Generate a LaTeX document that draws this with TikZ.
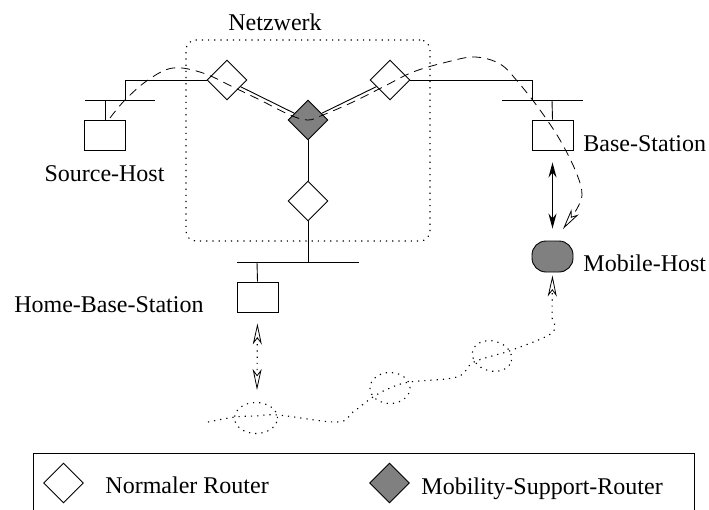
\documentclass[tikz,border=0pt]{standalone}
\usepackage{fontspec}
\setmainfont{Liberation Serif}
\usetikzlibrary{shapes.geometric,arrows.meta}
\definecolor{msrgray}{RGB}{128,128,128}
\begin{document}
\begin{tikzpicture}[x=1pt,y=-1pt, line width=0.9pt,
  router/.style={diamond, draw, fill=white, inner sep=0pt, minimum width=40pt, minimum height=40pt},
  msr/.style={router, fill=msrgray},
  hostbox/.style={draw, rectangle, inner sep=0pt, minimum width=41pt, minimum height=30pt},
  mobile/.style={draw, fill=msrgray, rectangle, rounded corners=14pt, inner sep=0pt, minimum width=41pt, minimum height=31pt},
  lbl/.style={font=\fontsize{24}{28}\selectfont, inner sep=0pt},
  netframe/.style={draw, rounded corners=10pt, dash pattern=on 1.2pt off 5pt, line width=1.1pt, inner sep=0pt, minimum width=244pt, minimum height=201pt},
  dashpath/.style={dash pattern=on 9pt off 6pt, line width=0.8pt},
  dotpath/.style={dash pattern=on 1.2pt off 5pt, line width=1.1pt},
  opentip/.style={-{Stealth[open, length=21pt, width=9pt, inset=6pt, line width=0.8pt]}},
  opentips/.style={{Stealth[open, length=21pt, width=9pt, inset=6pt, line width=0.8pt]}-{Stealth[open, length=21pt, width=9pt, inset=6pt, line width=0.8pt]}}
]
\useasboundingbox (0,0) rectangle (709,509);
\clip (0,0) rectangle (709,509);

% network frame
\node[netframe] (net) at (308,140.5) {};
\node[lbl, anchor=base] (netlbl) at (275,30) {Netzwerk};

% routers
\node[router] (r1) at (227,80) {};
\node[router] (r2) at (390,80) {};
\node[msr] (m1) at (308,120) {};
\node[router] (r3) at (308,201) {};

% source host
\coordinate (sbl) at (85,100);
\coordinate (sbr) at (155,100);
\coordinate (sbc) at (125,100);
\coordinate (sbh) at (105,100);
\node[hostbox] (sh) at (105,135) {};
\node[lbl, anchor=base] (shlbl) at (104.5,181) {Source-Host};

% base station
\coordinate (bbl) at (502,100);
\coordinate (bbr) at (583,100);
\coordinate (bbc) at (532,100);
\coordinate (bbh) at (552,100);
\node[hostbox] (bs) at (552.5,135) {};
\node[lbl, anchor=base west] (bslbl) at (583,151) {Base-Station};

% home base station
\coordinate (hbl) at (237,262);
\coordinate (hbr) at (359,262);
\coordinate (hbc) at (308,262);
\coordinate (hbh) at (257,262);
\node[hostbox] (hbs) at (257.5,297) {};
\node[lbl, anchor=base east] (hbslbl) at (204,312) {Home-Base-Station};

% mobile host
\node[mobile] (mh) at (552.5,256.5) {};
\node[lbl, anchor=base west] (mhlbl) at (583,271) {Mobile-Host};

% wiring
\draw (sbl) -- (sbr);
\draw (sbh) -- (sh.north);
\draw (r1.west) -| (sbc);
\draw (bbl) -- (bbr);
\draw (bbh) -- (bs.north);
\draw (r2.east) -| (bbc);
\draw (r1) -- (m1);
\draw (r2) -- (m1);
\draw (m1) -- (r3);
\draw (r3) -- (hbc);
\draw (hbl) -- (hbr);
\draw (hbh) -- (hbs.north);

% solid double arrow
\draw[line width=1.3pt, {Stealth[length=15pt, width=8pt]}-{Stealth[length=15pt, width=8pt]}, shorten <=12pt, shorten >=12pt] (bs.south) -- (mh.north);

% dashed route
\coordinate (dend) at (563,229);
\draw[dashpath, opentip] plot[smooth, tension=0.6] coordinates {(110,118) (125,100) (148,80) (173,68) (203,73) (233,87) (260,100) (290,115) (308,120) (323,115) (353,102) (383,87) (413,72) (447,62) (475,57) (500,64) (518,82) (540,110) (560,140) (576,172) (582,195) (575,212)} -- (dend);

% home base station dotted double arrow
\coordinate (hend) at (257,390);
\draw[dotpath, opentips, shorten <=11pt] (hbs.south) -- (hend);

% wandering dotted path
\draw[dotpath, opentip, shorten >=3pt] plot[smooth, tension=0.6] coordinates {(208,422) (235,417) (256,416) (278,415) (337,422) (353,412) (373,397) (390,388) (410,382) (457,377) (472,363) (492,356) (512,350) (552,333) (552,318)} -- (mh.south);
\draw[dotpath] (256,418) ellipse [x radius=21.5pt, y radius=15.5pt];
\draw[dotpath] (390,388) ellipse [x radius=20pt, y radius=15.5pt];
\draw[dotpath, rotate around={-15:(492,356)}] (492,356) ellipse [x radius=20pt, y radius=15pt];

% legend
\draw (33,453) rectangle (694,540);
\node[router] (lr) at (63.5,483) {};
\node[lbl, anchor=base west] (lrl) at (105,493) {Normaler Router};
\node[msr] (lm) at (389.5,483) {};
\node[lbl, anchor=base west] (lml) at (421,494) {Mobility-Support-Router};
\end{tikzpicture}
\end{document}
